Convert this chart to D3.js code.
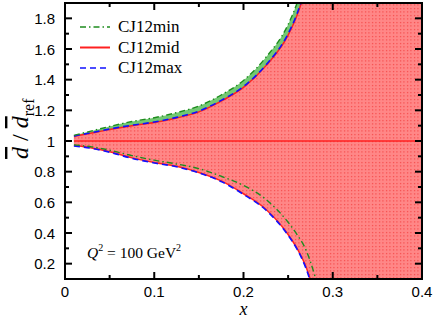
<!DOCTYPE html>
<meta charset="utf-8">
<style>
body { margin: 0; background: white; }
svg { font-family: "Liberation Sans", Arial, sans-serif; }
.serif { font-family: "Liberation Serif", "Times New Roman", serif; }
</style>
<script src="https://d3js.org/d3.v7.min.js"></script>
<body>
<script>

// x grid points for the band edges
var xs = [0.01, 0.03, 0.05, 0.075, 0.1, 0.125, 0.15, 0.175, 0.2, 0.225, 0.25, 0.26, 0.27, 0.28, 0.29, 0.4];

// CJ12mid band edges
var midUpper = [1.03, 1.052, 1.075, 1.10, 1.12, 1.15, 1.19, 1.26, 1.35, 1.49, 1.69, 1.82, 2.0, 2.25, 2.5, 2.5];
var midLower = [0.97, 0.955, 0.93, 0.89, 0.86, 0.835, 0.795, 0.74, 0.656, 0.555, 0.39, 0.30, 0.18, 0.0, -0.2, -0.2];

// CJ12min band edges
var minUpper = [1.037, 1.066, 1.095, 1.127, 1.152, 1.185, 1.228, 1.30, 1.395, 1.545, 1.76, 1.90, 2.09, 2.35, 2.5, 2.5];
var minLower = [0.975, 0.962, 0.94, 0.905, 0.875, 0.85, 0.82, 0.77, 0.71, 0.62, 0.47, 0.39, 0.29, 0.12, -0.1, -0.2];

// CJ12max band edges
var maxUpper = [1.033, 1.055, 1.078, 1.103, 1.124, 1.154, 1.195, 1.265, 1.355, 1.495, 1.70, 1.83, 2.01, 2.27, 2.5, 2.5];
var maxLower = [0.968, 0.952, 0.927, 0.887, 0.857, 0.832, 0.792, 0.736, 0.652, 0.55, 0.385, 0.295, 0.17, -0.01, -0.2, -0.2];

var centerX = [0.01, 0.393];
var centerY = [1, 1];

var xTicks = [0, 0.1, 0.2, 0.3, 0.4];
var yTicks = [0.2, 0.4, 0.6, 0.8, 1, 1.2, 1.4, 1.6, 1.8];

var W = 436, H = 318;
var pL = 65, pR = 422, pT = 3, pB = 279;

var svg = d3.select("body").append("svg")
    .attr("width", W)
    .attr("height", H);

var x = d3.scaleLinear().domain([0, 0.4]).range([pL, pR]);
var y = d3.scaleLinear().domain([0.1, 1.9]).range([pB, pT]);

var defs = svg.append("defs");
defs.append("clipPath").attr("id", "clip")
  .append("rect")
    .attr("x", pL).attr("y", pT)
    .attr("width", pR - pL).attr("height", pB - pT);

var pat = defs.append("pattern")
    .attr("id", "dots")
    .attr("patternUnits", "userSpaceOnUse")
    .attr("width", 3.5).attr("height", 3.5);
pat.append("rect").attr("width", 3.5).attr("height", 3.5).attr("fill", "#ff8787");
pat.append("rect").attr("x", 1).attr("y", 1).attr("width", 1).attr("height", 1).attr("fill", "#f02828");

function band(up, lo) {
  return d3.area()
      .x(function(d, i) { return x(xs[i]); })
      .y0(function(d, i) { return y(lo[i]); })
      .y1(function(d, i) { return y(up[i]); })
      .curve(d3.curveMonotoneX)(xs);
}
function edge(vals) {
  return d3.line()
      .x(function(d, i) { return x(xs[i]); })
      .y(function(d, i) { return y(vals[i]); })
      .curve(d3.curveMonotoneX)(xs);
}

var plot = svg.append("g").attr("clip-path", "url(#clip)");

plot.append("path").attr("d", band(minUpper, minLower)).attr("fill", "#72c872");
plot.append("path").attr("d", band(midUpper, midLower)).attr("fill", "url(#dots)");

[midUpper, midLower].forEach(function(v) {
  plot.append("path").attr("d", edge(v))
      .attr("fill", "none").attr("stroke", "#ff2020").attr("stroke-width", 1.5);
});
[maxUpper, maxLower].forEach(function(v) {
  plot.append("path").attr("d", edge(v))
      .attr("fill", "none").attr("stroke", "#1010ff").attr("stroke-width", 1.6)
      .attr("stroke-dasharray", "6,4");
});
[minUpper, minLower].forEach(function(v) {
  plot.append("path").attr("d", edge(v))
      .attr("fill", "none").attr("stroke", "#1e8c1e").attr("stroke-width", 1.4)
      .attr("stroke-dasharray", "6,3,1.5,3");
});

plot.append("path")
    .datum(centerX)
    .attr("d", d3.line().x(function(d) { return x(d); }).y(function(d, i) { return y(centerY[i]); }))
    .attr("fill", "none").attr("stroke", "#ff2020").attr("stroke-width", 1.5);

// ticks on all four sides, pointing inward
var ax = svg.append("g");
var xMinor = d3.range(0, 0.401, 0.05);
var yMinor = d3.range(0.2, 1.81, 0.1);
xMinor.forEach(function(v, i) {
  var len = (i % 2 === 0) ? 7 : 4;
  ax.append("line").attr("x1", x(v)).attr("x2", x(v)).attr("y1", pB).attr("y2", pB - len);
  ax.append("line").attr("x1", x(v)).attr("x2", x(v)).attr("y1", pT).attr("y2", pT + len);
});
yMinor.forEach(function(v, i) {
  var len = (i % 2 === 0) ? 7 : 4;
  ax.append("line").attr("y1", y(v)).attr("y2", y(v)).attr("x1", pL).attr("x2", pL + len);
  ax.append("line").attr("y1", y(v)).attr("y2", y(v)).attr("x1", pR).attr("x2", pR - len);
});
ax.selectAll("line").attr("stroke", "black").attr("stroke-width", 2);

svg.append("rect")
    .attr("x", pL).attr("y", pT)
    .attr("width", pR - pL).attr("height", pB - pT)
    .attr("fill", "none").attr("stroke", "black").attr("stroke-width", 2);

// tick labels
svg.selectAll(".xl").data(xTicks).enter().append("text")
    .attr("x", function(d) { return x(d); })
    .attr("y", 297)
    .attr("text-anchor", "middle")
    .attr("font-size", 15)
    .text(function(d) { return d; });
svg.selectAll(".yl").data(yTicks).enter().append("text")
    .attr("x", 55)
    .attr("y", function(d) { return y(d) + 5.5; })
    .attr("text-anchor", "end")
    .attr("font-size", 15)
    .text(function(d) { return d; });

// axis titles
svg.append("text").attr("class", "serif")
    .attr("x", x(0.2)).attr("y", 315)
    .attr("text-anchor", "middle")
    .attr("font-size", 18).attr("font-style", "italic")
    .text("x");

var yt = svg.append("text").attr("class", "serif")
    .attr("transform", "translate(28," + y(1.08) + ") rotate(-90)")
    .attr("text-anchor", "middle")
    .attr("font-size", 24);
yt.append("tspan").attr("font-style", "italic").style("text-decoration", "overline").text("d");
yt.append("tspan").text(" / ");
yt.append("tspan").attr("font-style", "italic").style("text-decoration", "overline").text("d");
yt.append("tspan").attr("font-size", 16).attr("dy", 6).text("ref");

// legend
var legNames = ["CJ12min", "CJ12mid", "CJ12max"];
var legColors = ["#1e8c1e", "#ff2020", "#1010ff"];
var legDash = ["6,3,1.5,3", null, "6,4"];
legNames.forEach(function(n, i) {
  var ly = 27 + i * 20.5;
  svg.append("line")
      .attr("x1", 80).attr("x2", 110).attr("y1", ly).attr("y2", ly)
      .attr("stroke", legColors[i]).attr("stroke-width", i === 1 ? 2 : 1.6)
      .attr("stroke-dasharray", legDash[i]);
  svg.append("text").attr("class", "serif")
      .attr("x", 118).attr("y", ly + 5)
      .attr("font-size", 17)
      .text(n);
});

// Q^2 label
var q = svg.append("text").attr("class", "serif")
    .attr("x", 87).attr("y", 258)
    .attr("font-size", 15.5);
q.append("tspan").attr("font-style", "italic").text("Q");
q.append("tspan").attr("font-size", 10).attr("dy", -7).text("2");
q.append("tspan").attr("dy", 7).text(" = 100 GeV");
q.append("tspan").attr("font-size", 10).attr("dy", -7).text("2");

</script>
